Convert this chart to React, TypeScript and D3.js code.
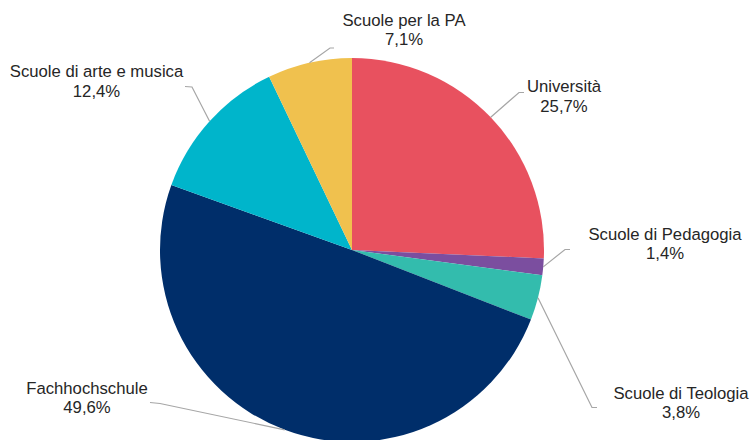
import React from "react";
import * as d3 from "d3";

const categories = [
  "Università",
  "Scuole di Pedagogia",
  "Scuole di Teologia",
  "Fachhochschule",
  "Scuole di arte e musica",
  "Scuole per la PA",
];
const values = [25.7, 1.4, 3.8, 49.6, 12.4, 7.1];
const valueLabels = ["25,7%", "1,4%", "3,8%", "49,6%", "12,4%", "7,1%"];
const colors = ["#E8515F", "#7B4E9F", "#33BCAD", "#002E6A", "#00B5CB", "#F0C14E"];

// label layout: text centre x, first baseline y, elbow point, end point
const labelLayout = [
  { cx: 564, by: 92, ex: 519, ey: 92.5, tx: 524, ty: 92.5 },
  { cx: 665, by: 239.5, ex: 565, ey: 249.5, tx: 570, ty: 249.5 },
  { cx: 681, by: 398.5, ex: 592, ey: 407.5, tx: 597, ty: 407.5 },
  { cx: 87, by: 393.5, ex: 160, ey: 403.5, tx: 150, ty: 402.5 },
  { cx: 96.5, by: 77, ex: 192, ey: 87, tx: 185, ty: 86.5 },
  { cx: 404, by: 25.5, ex: 330, ey: 48, tx: 334, ty: 48 },
];

export default function App() {
  const W = 752;
  const H = 440;
  const cx = 352;
  const cy = 250;
  const r = 192;

  const data = categories.map((c, i) => ({ name: c, value: values[i], label: valueLabels[i], color: colors[i] }));
  const pie = d3.pie<any>().sort(null).value((d: any) => d.value);
  const arcs = pie(data);
  const arc = d3.arc<any>().innerRadius(0).outerRadius(r);

  return (
    <svg
      width={W}
      height={H}
      style={{ position: "fixed", left: 0, top: 0, background: "#fff" }}
      fontFamily="'Liberation Sans', Arial, sans-serif"
    >
      <rect width={W} height={H} fill="#fff" />
      <g transform={`translate(${cx},${cy})`}>
        {arcs.map((a, i) => (
          <path key={i} d={arc(a) || ""} fill={a.data.color} />
        ))}
      </g>
      {arcs.map((a, i) => {
        const mid = (a.startAngle + a.endAngle) / 2;
        const sx = cx + r * Math.sin(mid);
        const sy = cy - r * Math.cos(mid);
        const L = labelLayout[i];
        return (
          <g key={i}>
            <polyline
              points={`${sx},${sy} ${L.ex},${L.ey} ${L.tx},${L.ty}`}
              fill="none"
              stroke="#A6A6A6"
              strokeWidth={1.2}
            />
            <text x={L.cx} y={L.by} textAnchor="middle" fontSize={16.7} fill="#262626">
              {a.data.name}
            </text>
            <text x={L.cx} y={L.by + 19.5} textAnchor="middle" fontSize={16.7} fill="#262626">
              {a.data.label}
            </text>
          </g>
        );
      })}
    </svg>
  );
}
